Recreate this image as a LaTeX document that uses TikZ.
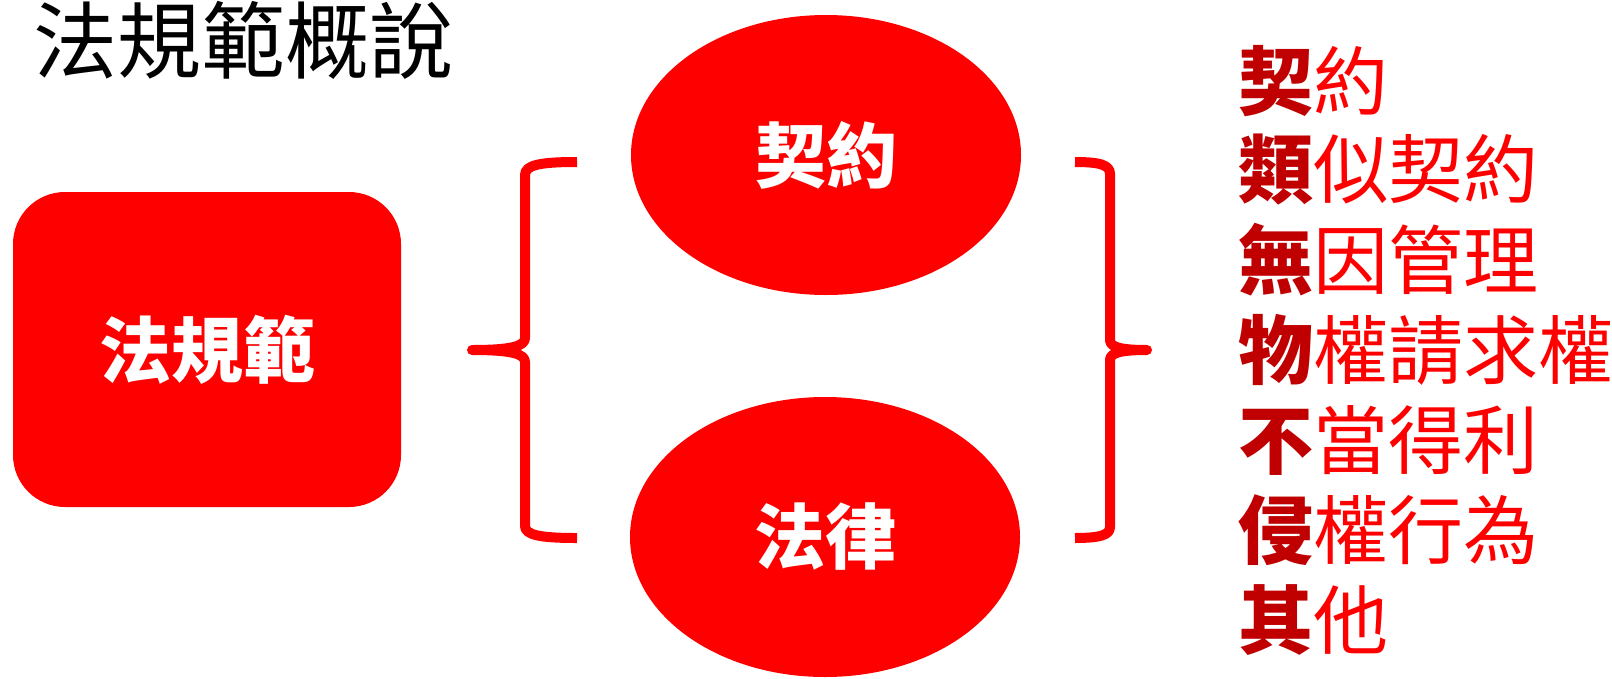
\documentclass[tikz,border=0pt]{standalone}
\usepackage{fontspec}
\setmainfont{Noto Sans CJK TC}
\usetikzlibrary{shapes.geometric}
\definecolor{mred}{HTML}{FF0000}
\definecolor{dred}{HTML}{C00000}
\begin{document}
\begin{tikzpicture}[x=1pt,y=-1pt,
 brace/.style={draw=mred,line width=10pt,line join=round},
 item/.style={anchor=west,inner sep=0pt,font=\fontsize{75}{75}\selectfont,text=mred},
 oval/.style={ellipse,fill=mred,minimum width=390pt,minimum height=280pt,inner sep=0pt,text=white,font=\fontsize{71}{71}\selectfont\bfseries}]
\useasboundingbox (0,0) rectangle (1612,678);
\node[anchor=west,inner sep=0pt,font=\fontsize{84}{84}\selectfont] (title) at (33,40) {法規範概說};
\node[fill=mred,rounded corners=52pt,minimum width=388pt,minimum height=315pt,inner sep=0pt,text=white,font=\fontsize{72}{72}\selectfont\bfseries] (main) at (207,349.5) {法規範};
\node[oval] (contract) at (826,155) {契約};
\node[oval] (law) at (825,537) {法律};
\draw[brace] (577,162) .. controls (540,162) and (525,165) .. (525,175) -- (525,338) .. controls (525,346) and (512,350) .. (472,350)
  .. controls (512,350) and (525,354) .. (525,362) -- (525,526) .. controls (525,535) and (540,538) .. (577,538);
\draw[brace] (1075,162) .. controls (1100,162) and (1110,165) .. (1110,174) -- (1110,340) .. controls (1110,347) and (1120,350) .. (1147,350)
  .. controls (1120,350) and (1110,353) .. (1110,360) -- (1110,527) .. controls (1110,535) and (1100,538) .. (1075,538);
\node[item] (i1) at (1238,81) {\textcolor{dred}{\bfseries 契}約};
\node[item] (i2) at (1238,170) {\textcolor{dred}{\bfseries 類}似契約};
\node[item] (i3) at (1238,260) {\textcolor{dred}{\bfseries 無}因管理};
\node[item] (i4) at (1238,350) {\textcolor{dred}{\bfseries 物}權請求權};
\node[item] (i5) at (1238,440) {\textcolor{dred}{\bfseries 不}當得利};
\node[item] (i6) at (1238,530) {\textcolor{dred}{\bfseries 侵}權行為};
\node[item] (i7) at (1238,620) {\textcolor{dred}{\bfseries 其}他};
\end{tikzpicture}
\end{document}
